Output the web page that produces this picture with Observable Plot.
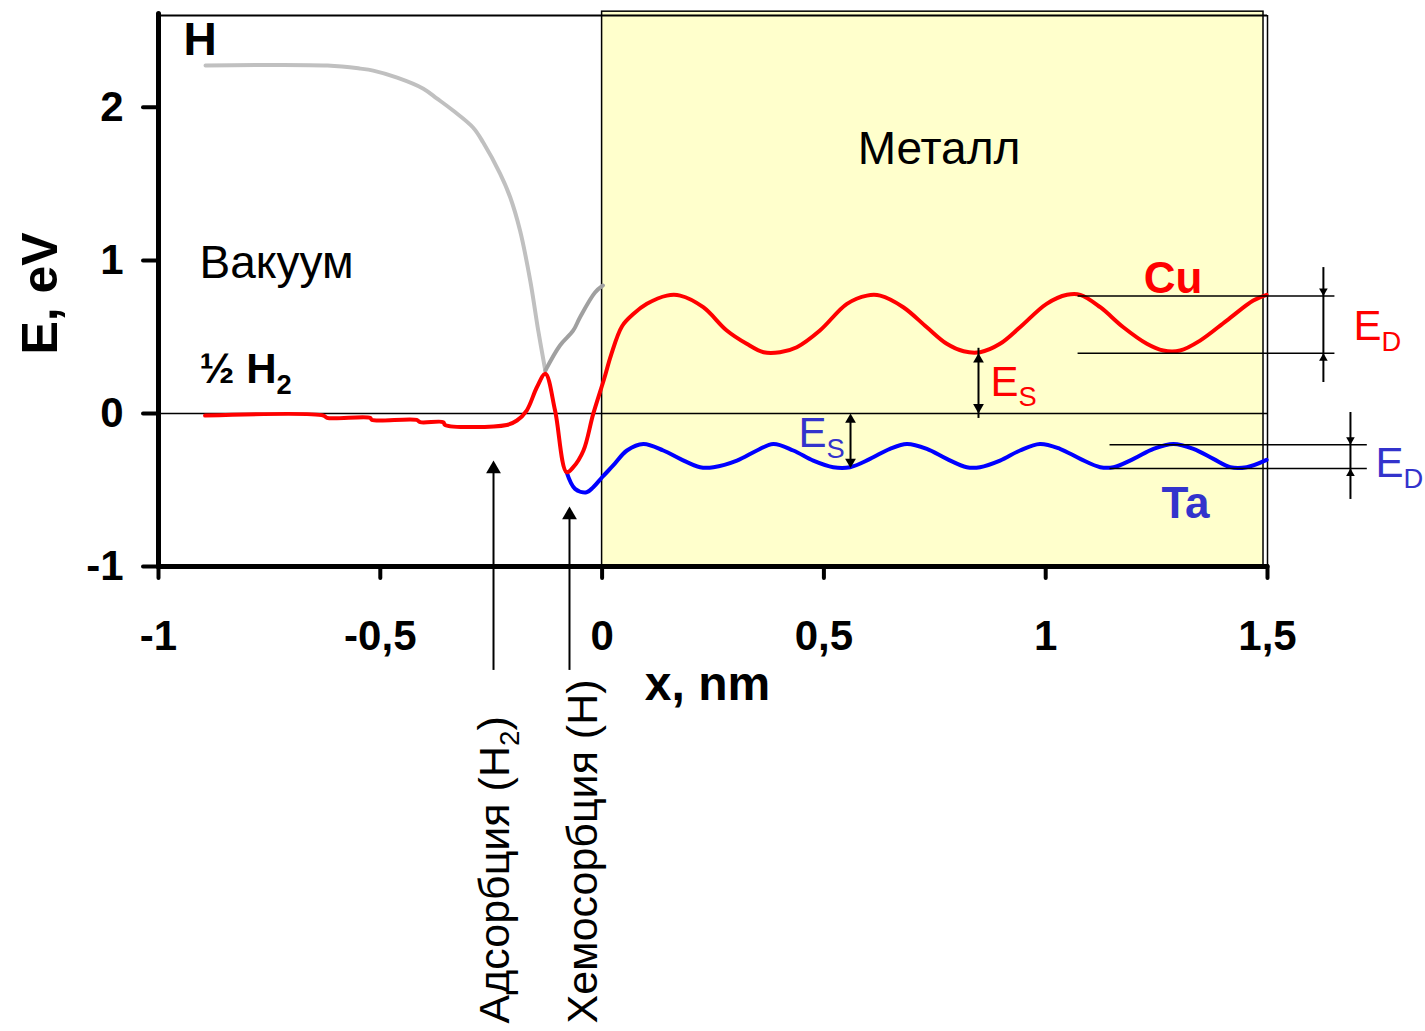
<!DOCTYPE html>
<html>
<head>
<meta charset="utf-8">
<script src="https://cdn.jsdelivr.net/npm/d3@7"></script>
<script src="https://cdn.jsdelivr.net/npm/@observablehq/plot@0.6"></script>
<style>
  html, body { margin: 0; padding: 0; background: #ffffff; }
  #chart svg { font-family: "Liberation Sans", Arial, sans-serif; display: block; }
</style>
</head>
<body>
<div id="chart"></div>
<script>
// ---------- data (x in nm, E in eV) ----------
const xTicks = [-1, -0.5, 0, 0.5, 1, 1.5];
const yTicks = [-1, 0, 1, 2];

// free H atom potential (light grey)
const hFreeX = [-0.894, -0.619, -0.545, -0.516, -0.462, -0.403, -0.372, -0.336, -0.291, -0.268, -0.230, -0.207, -0.185, -0.162, -0.144, -0.128];
const hFreeE = [2.273, 2.273, 2.253, 2.240, 2.194, 2.122, 2.057, 1.979, 1.868, 1.770, 1.567, 1.411, 1.195, 0.868, 0.542, 0.280];
// continuation toward the surface (darker grey)
const hNearX = [-0.128, -0.095, -0.065, -0.050, -0.016, 0.002];
const hNearE = [0.280, 0.444, 0.542, 0.627, 0.790, 0.836];

// Cu (red)
const cuX = [-0.895,-0.628,-0.620,-0.523,-0.519,-0.418,-0.410,-0.358,-0.354,-0.215,-0.192,-0.170,-0.147,-0.128,-0.106,-0.080,-0.065,-0.042,-0.020,0.005,0.020,0.045,0.071,0.101,0.146,0.176,0.228,0.281,0.326,0.364,0.401,0.439,0.491,0.552,0.597,0.627,0.679,0.732,0.777,0.815,0.852,0.897,0.942,1.002,1.048,1.078,1.123,1.175,1.228,1.265,1.303,1.348,1.408,1.468,1.498];
const cuE = [-0.014,-0.014,-0.029,-0.029,-0.042,-0.042,-0.057,-0.057,-0.075,-0.075,-0.046,0.019,0.171,0.259,0.019,-0.384,-0.351,-0.242,-0.003,0.230,0.380,0.570,0.651,0.716,0.770,0.770,0.694,0.542,0.455,0.400,0.400,0.433,0.542,0.716,0.770,0.770,0.694,0.563,0.455,0.406,0.400,0.455,0.563,0.716,0.775,0.775,0.694,0.563,0.455,0.411,0.411,0.476,0.607,0.738,0.775];

// Ta (blue)
const taX = [-0.080,-0.061,-0.035,-0.020,0.000,0.025,0.056,0.093,0.138,0.176,0.221,0.251,0.304,0.349,0.386,0.431,0.476,0.521,0.559,0.604,0.649,0.687,0.732,0.777,0.822,0.852,0.897,0.942,0.987,1.032,1.078,1.123,1.153,1.198,1.243,1.288,1.333,1.378,1.416,1.453,1.498];
const taE = [-0.384,-0.493,-0.515,-0.482,-0.417,-0.340,-0.242,-0.199,-0.242,-0.297,-0.351,-0.351,-0.308,-0.242,-0.199,-0.242,-0.308,-0.351,-0.351,-0.297,-0.231,-0.199,-0.231,-0.297,-0.351,-0.351,-0.308,-0.242,-0.199,-0.231,-0.297,-0.351,-0.351,-0.297,-0.231,-0.199,-0.231,-0.297,-0.351,-0.351,-0.303];

// metal region
const metalRegion = [{x1: 0, x2: 1.491, y1: -1, y2: 2.625}];

// E_D guide levels and E_S gaps
const cuEdLevels = [0.768, 0.393];
const taEdLevels = [-0.205, -0.360];
const cuEdBar = [{x: 1.626, y1: 0.953, y2: 0.202}];
const taEdBar = [{x: 1.687, y1: 0.006, y2: -0.562}];
const esBars = [{x: 0.8485, y1: 0, y2: 0.393}, {x: 0.560, y1: 0, y2: -0.357}];

// process markers (vertical arrows from below the axis)
const processArrows = [
  {x: -0.2448, y1: -1.679, tip: -0.307},
  {x: -0.0735, y1: -1.679, tip: -0.608}
];

// labels
const plainLabels = [
  {x: -0.9076, y: 0.888, text: "Вакуум", size: 46, weight: "normal", color: "black", anchor: "start"},
  {x: 0.7595, y: 1.633, text: "Металл", size: 46, weight: "normal", color: "black", anchor: "middle"},
  {x: -0.9436, y: 2.339, text: "H", size: 46, weight: "bold", color: "black", anchor: "start"},
  {x: -0.9076, y: 0.196, text: "½ H_{2}", size: 42, weight: "bold", color: "black", anchor: "start"},
  {x: 1.287, y: 0.790, text: "Cu", size: 44, weight: "bold", color: "#FF0000", anchor: "middle"},
  {x: 1.315, y: -0.680, text: "Ta", size: 44, weight: "bold", color: "#3333CC", anchor: "middle"},
  {x: 0.8756, y: 0.117, text: "E_{S}", size: 42, weight: "normal", color: "#FF0000", anchor: "start"},
  {x: 0.4427, y: -0.222, text: "E_{S}", size: 42, weight: "normal", color: "#3333CC", anchor: "start"},
  {x: 1.6939, y: 0.477, text: "E_{D}", size: 42, weight: "normal", color: "#FF0000", anchor: "start"},
  {x: 1.7435, y: -0.418, text: "E_{D}", size: 42, weight: "normal", color: "#3333CC", anchor: "start"},
  {x: 0.2376, y: -1.875, text: "x, nm", size: 48, weight: "bold", color: "black", anchor: "middle"}
];
const rotatedLabels = [
  {x: -1.228, y: 0.784, text: "E, eV", size: 50, weight: "bold", anchor: "middle"},
  {x: -0.211, y: -3.986, text: "Адсорбция (H_{2})", size: 43, weight: "normal", anchor: "start"},
  {x: -0.0104, y: -3.986, text: "Хемосорбция (H)", size: 43, weight: "normal", anchor: "start"}
];

// ---------- build ----------
const zip = (xs, ys) => xs.map((x, i) => ({x, y: ys[i]}));
const FONT = '"Liberation Sans", Arial, sans-serif';

// triangle heads: tip placed exactly on the point (d3 triangle tip is 1.555·r from its centre)
function heads(points, r, up) {
  return Plot.dot(points, {x: "x", y: "y", r, symbol: "triangle", fill: "black", stroke: null,
    rotate: up ? 0 : 180, dy: (up ? 1 : -1) * 1.555 * r});
}
const bigUp = processArrows.map(d => ({x: d.x, y: d.tip}));
const esUp = [{x: esBars[0].x, y: esBars[0].y2}, {x: esBars[1].x, y: esBars[1].y1}];
const esDown = [{x: esBars[0].x, y: esBars[0].y1}, {x: esBars[1].x, y: esBars[1].y2}];
const edUp = [{x: cuEdBar[0].x, y: cuEdLevels[1]}, {x: taEdBar[0].x, y: taEdLevels[1]}];
const edDown = [{x: cuEdBar[0].x, y: cuEdLevels[0]}, {x: taEdBar[0].x, y: taEdLevels[0]}];

const marks = [
  Plot.rect(metalRegion, {x1: "x1", x2: "x2", y1: "y1", y2: "y2", fill: "#FFFFCC", stroke: "black", strokeWidth: 1.5}),
  // frame
  Plot.ruleY([2.6], {x1: -1, x2: 1.5, stroke: "black", strokeWidth: 2}),
  Plot.ruleX([1.5], {y1: -1, y2: 2.6, stroke: "black", strokeWidth: 1.5}),
  // zero level
  Plot.ruleY([0], {x1: -1, x2: 1.5, stroke: "black", strokeWidth: 1.5}),
  // curves
  Plot.line(zip(hFreeX, hFreeE), {x: "x", y: "y", stroke: "#C0C0C0", strokeWidth: 4, curve: "catmull-rom"}),
  Plot.line(zip(hNearX, hNearE), {x: "x", y: "y", stroke: "#A0A0A0", strokeWidth: 4, curve: "catmull-rom"}),
  Plot.line(zip(taX, taE), {x: "x", y: "y", stroke: "#0000FF", strokeWidth: 4, curve: "catmull-rom"}),
  Plot.line(zip(cuX, cuE), {x: "x", y: "y", stroke: "#FF0000", strokeWidth: 4, curve: "catmull-rom"}),
  // E_D guides
  Plot.ruleY(cuEdLevels, {y: d => d, x1: 1.073, x2: 1.652, stroke: "black", strokeWidth: 1.5}),
  Plot.ruleY(taEdLevels, {y: d => d, x1: 1.145, x2: 1.725, stroke: "black", strokeWidth: 1.5}),
  Plot.ruleX(cuEdBar, {x: "x", y1: "y1", y2: "y2", stroke: "black", strokeWidth: 2}),
  Plot.ruleX(taEdBar, {x: "x", y1: "y1", y2: "y2", stroke: "black", strokeWidth: 2}),
  // E_S gaps
  Plot.ruleX(esBars, {x: "x", y1: "y1", y2: "y2", stroke: "black", strokeWidth: 2, insetTop: 5, insetBottom: 5}),
  // process arrows
  Plot.ruleX(processArrows, {x: "x", y1: "y1", y2: d => d.tip - 0.05, stroke: "black", strokeWidth: 2, clip: false}),
  heads(bigUp, 5.5, true),
  heads(esUp, 4, true),
  heads(esDown, 4, false),
  heads(edUp, 3.2, true),
  heads(edDown, 3.2, false),
  // axis lines
  Plot.ruleX([-1], {y1: -1, y2: 2.61, stroke: "black", strokeWidth: 5, strokeLinecap: "round"}),
  Plot.ruleY([-1], {x1: -1, x2: 1.5, stroke: "black", strokeWidth: 5, strokeLinecap: "round"}),
  Plot.axisX({ticks: xTicks, tickSize: 12, tickPadding: 42, fontSize: 42, fontWeight: "bold", strokeWidth: 4, strokeLinecap: "round",
    tickFormat: d => String(d).replace(".", ","), label: null}),
  Plot.axisY({ticks: yTicks, tickSize: 15, tickPadding: 20, fontSize: 42, fontWeight: "bold", strokeWidth: 4, strokeLinecap: "round",
    tickFormat: d => String(d), label: null}),
  // labels
  ...plainLabels.map(l => Plot.text([l], {x: "x", y: "y", text: "text", fontSize: l.size, fontWeight: l.weight,
    fill: l.color, textAnchor: l.anchor, lineAnchor: "bottom", fontFamily: FONT})),
  ...rotatedLabels.map(l => Plot.text([l], {x: "x", y: "y", text: "text", fontSize: l.size, fontWeight: l.weight,
    fill: "black", textAnchor: l.anchor, lineAnchor: "bottom", rotate: -90, fontFamily: FONT}))
];

const plot = Plot.plot({
  width: 1425,
  height: 1031,
  marginLeft: 158,
  marginRight: 158,
  marginTop: 15,
  marginBottom: 465,
  x: {domain: [-1, 1.5]},
  y: {domain: [-1, 2.6]},
  style: {fontFamily: FONT, background: "white", color: "black", overflow: "visible"},
  marks
});

// subscripts: "A_{b}rest"
plot.querySelectorAll("text").forEach(t => {
  const s = t.textContent;
  const m = s.match(/^(.*)_\{(.+?)\}(.*)$/);
  if (!m) return;
  const ns = "http://www.w3.org/2000/svg";
  t.textContent = "";
  const a = document.createElementNS(ns, "tspan"); a.textContent = m[1]; t.appendChild(a);
  const b = document.createElementNS(ns, "tspan"); b.textContent = m[2];
  b.setAttribute("font-size", "0.65em"); b.setAttribute("dy", "0.38em"); t.appendChild(b);
  if (m[3]) { const c = document.createElementNS(ns, "tspan"); c.textContent = m[3]; c.setAttribute("dy", "-0.25em"); t.appendChild(c); }
});

document.getElementById("chart").appendChild(plot);
</script>
</body>
</html>
